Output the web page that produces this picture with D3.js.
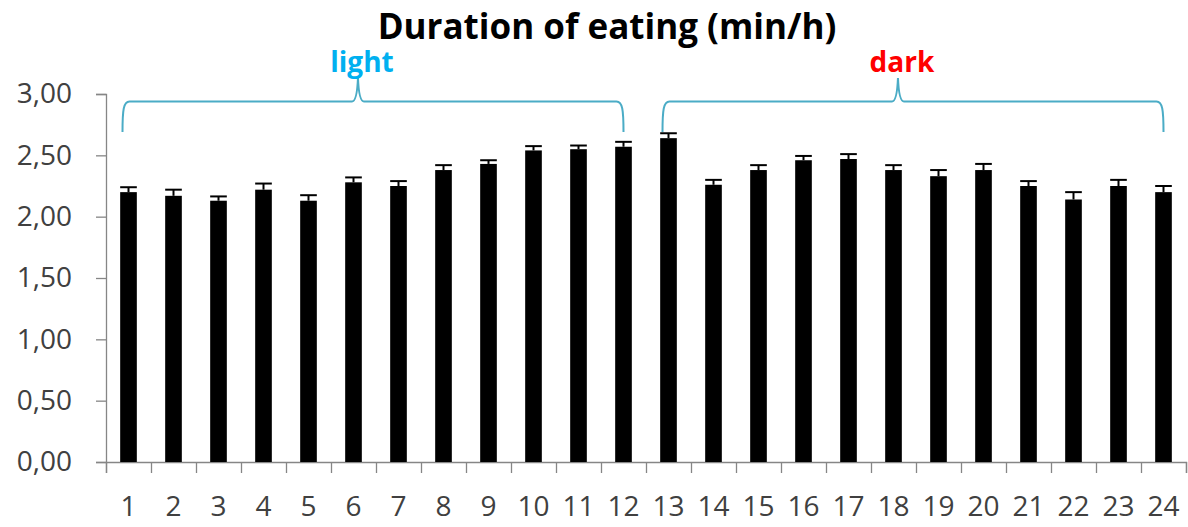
<!DOCTYPE html>
<html>
<head>
<meta charset="utf-8">
<script src="https://cdn.jsdelivr.net/npm/d3@7"></script>
<style>
  body { margin: 0; background: #fff; }
  svg { display: block; font-family: "Open Sans", sans-serif; }
</style>
</head>
<body>
<svg id="chart" width="1188" height="527"></svg>
<script>
// hours of the day and mean eating duration (min/h) with SEM
const hours = ["1","2","3","4","5","6","7","8","9","10","11","12",
               "13","14","15","16","17","18","19","20","21","22","23","24"];
const means = [2.20, 2.17, 2.13, 2.22, 2.13, 2.28, 2.25, 2.38, 2.43, 2.54, 2.55, 2.57,
               2.64, 2.26, 2.38, 2.46, 2.47, 2.38, 2.33, 2.38, 2.25, 2.14, 2.25, 2.20];
const errors = [0.04, 0.05, 0.035, 0.05, 0.045, 0.04, 0.04, 0.04, 0.03, 0.035, 0.03, 0.04,
                0.04, 0.04, 0.04, 0.035, 0.04, 0.04, 0.05, 0.05, 0.04, 0.06, 0.05, 0.05];
const yTicks = [0, 0.5, 1, 1.5, 2, 2.5, 3];
const periods = [
  {label: "light", from: "1", to: "12", color: "#00b0f0"},
  {label: "dark", from: "13", to: "24", color: "#ff0000"}
];

const svg = d3.select("#chart");
const margin = {top: 94, right: 2, bottom: 65, left: 106};
const width = 1188, height = 527;

let x = d3.scaleBand()
          .domain(hours)
          .range([margin.left, width - margin.right])
          .paddingInner(0.63)
          .paddingOuter(0.315);
let y = d3.scaleLinear()
          .domain([0, 3])
          .range([height - margin.bottom, margin.top]);
// boundaries between the hour categories (for the tick marks)
let xEdge = d3.scaleLinear()
              .domain([0, hours.length])
              .range([margin.left, width - margin.right]);

const axisColor = "#868686";
const labelColor = "#404040";

// y axis
let gy = svg.append("g")
            .attr("transform", "translate(" + margin.left + ",0)")
            .call(d3.axisLeft(y)
                    .tickValues(yTicks)
                    .tickSize(10)
                    .tickPadding(24)
                    .tickFormat(function(d) { return d3.format(".2f")(d).replace(".", ","); }));
gy.select(".domain").attr("stroke", axisColor).attr("stroke-width", 1.3);
gy.selectAll(".tick line").attr("stroke", axisColor).attr("stroke-width", 1.3);
gy.selectAll(".tick text").attr("fill", labelColor).style("font-size", "28px")
  .style("font-family", "'Open Sans', sans-serif");

// x axis: tick marks at category edges
let gxTicks = svg.append("g")
                 .attr("transform", "translate(0," + y(0) + ")")
                 .call(d3.axisBottom(xEdge)
                         .tickValues(d3.range(hours.length + 1))
                         .tickSize(11)
                         .tickFormat(""));
gxTicks.select(".domain").attr("stroke", axisColor).attr("stroke-width", 1.3);
gxTicks.selectAll(".tick line").attr("stroke", axisColor).attr("stroke-width", 1.3);

// x axis labels centred on bars
let gx = svg.append("g")
            .attr("transform", "translate(0," + y(0) + ")")
            .call(d3.axisBottom(x).tickSize(0).tickPadding(34));
gx.select(".domain").remove();
gx.selectAll(".tick text").attr("fill", labelColor).style("font-size", "28px")
  .style("font-family", "'Open Sans', sans-serif");

// bars
svg.append("g")
   .selectAll("rect")
   .data(means)
   .enter()
   .append("rect")
   .attr("x", function(d, i) { return x(hours[i]); })
   .attr("y", function(d) { return y(d); })
   .attr("width", x.bandwidth())
   .attr("height", function(d) { return y(0) - y(d); })
   .attr("fill", "#000");

// error bars (upper part only visible)
let eb = svg.append("g").attr("stroke", "#000").attr("stroke-width", 2);
eb.selectAll("line.stem")
  .data(means)
  .enter()
  .append("line")
  .attr("class", "stem")
  .attr("x1", function(d, i) { return x(hours[i]) + x.bandwidth() / 2; })
  .attr("x2", function(d, i) { return x(hours[i]) + x.bandwidth() / 2; })
  .attr("y1", function(d) { return y(d); })
  .attr("y2", function(d, i) { return y(d + errors[i]); });
eb.selectAll("line.cap")
  .data(means)
  .enter()
  .append("line")
  .attr("class", "cap")
  .attr("x1", function(d, i) { return x(hours[i]); })
  .attr("x2", function(d, i) { return x(hours[i]) + x.bandwidth(); })
  .attr("y1", function(d, i) { return y(d + errors[i]); })
  .attr("y2", function(d, i) { return y(d + errors[i]); });

// curly braces over light / dark periods
function bracePath(x0, x1, yH, yEnd, yTop) {
  let px = x0 + (x1 - x0) * 0.47;
  return "M" + x0 + "," + yEnd +
         " C" + x0 + "," + (yEnd - 22) + " " + (x0 + 1) + "," + yH + " " + (x0 + 7) + "," + yH +
         " L" + (px - 6) + "," + yH +
         " Q" + (px - 1) + "," + yH + " " + px + "," + yTop +
         " Q" + (px + 1) + "," + yH + " " + (px + 6) + "," + yH +
         " L" + (x1 - 7) + "," + yH +
         " C" + (x1 - 1) + "," + yH + " " + x1 + "," + (yEnd - 22) + " " + x1 + "," + yEnd;
}

let braces = svg.append("g");
braces.selectAll("path")
      .data(periods)
      .enter()
      .append("path")
      .attr("d", function(p) {
        let x0 = x(p.from) + x.bandwidth() / 2 - 6;
        let x1 = x(p.to) + x.bandwidth() / 2;
        return bracePath(x0, x1, 101.5, 132, 78);
      })
      .attr("fill", "none")
      .attr("stroke", "#4bacc6")
      .attr("stroke-width", 2);

braces.selectAll("text")
      .data(periods)
      .enter()
      .append("text")
      .attr("x", function(p) {
        let x0 = x(p.from) + x.bandwidth() / 2 - 6;
        let x1 = x(p.to) + x.bandwidth() / 2;
        return x0 + (x1 - x0) * 0.47 + 4;
      })
      .attr("y", 72)
      .attr("text-anchor", "middle")
      .attr("fill", function(p) { return p.color; })
      .style("font-size", "28px")
      .style("font-weight", "bold")
      .text(function(p) { return p.label; });

// title
svg.append("text")
   .attr("x", 607)
   .attr("y", 39)
   .attr("text-anchor", "middle")
   .attr("fill", "#000")
   .style("font-size", "35px")
   .style("font-weight", "bold")
   .text("Duration of eating (min/h)");
</script>
</body>
</html>
